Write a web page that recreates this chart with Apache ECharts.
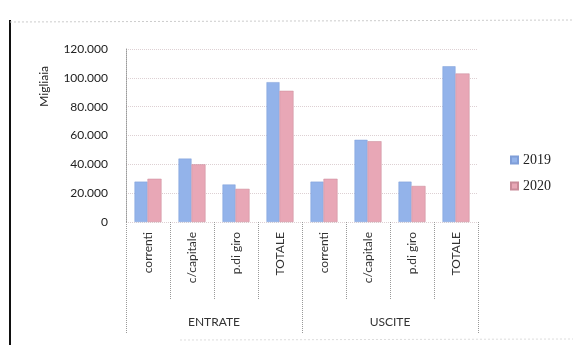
<!DOCTYPE html>
<html>
<head>
<meta charset="utf-8">
<script src="https://cdn.jsdelivr.net/npm/echarts@6/dist/echarts.min.js"></script>
<style>
  html, body { margin: 0; padding: 0; background: #fff; }
  #chart { width: 573px; height: 345px; }
</style>
</head>
<body>
<div id="chart"></div>
<script>
// Voci di bilancio (migliaia di euro)
const voci = ['correnti', 'c/capitale', 'p.di giro', 'TOTALE', 'correnti', 'c/capitale', 'p.di giro', 'TOTALE'];
const gruppi = ['ENTRATE', 'USCITE'];
const serie2019 = [28000, 44000, 26000, 97000, 28000, 57000, 28000, 108000];
const serie2020 = [30000, 40000, 23000, 91000, 30000, 56000, 25000, 103000];
const yTicks = [0, 20000, 40000, 60000, 80000, 100000, 120000];

const chart = echarts.init(document.getElementById('chart'));
const font = 'Lato, "DejaVu Sans", sans-serif';

chart.setOption({
  animation: false,
  backgroundColor: '#fff',
  textStyle: { fontFamily: font },
  grid: { left: 126, right: 95, top: 49, bottom: 123, containLabel: false },
  legend: {
    orient: 'vertical', left: 505, top: 148, itemWidth: 7, itemHeight: 7, itemGap: 12,
    icon: 'rect',
    textStyle: { fontFamily: '"Liberation Serif", "DejaVu Serif", serif', fontSize: 14, color: '#222' },
    data: ['2019', '2020']
  },
  xAxis: [
    {
      type: 'category', data: voci, position: 'bottom',
      axisLine: { show: false },
      axisTick: { show: true, length: 78, lineStyle: { color: '#999', type: 'dotted' } },
      axisLabel: { rotate: 90, margin: 10, fontSize: 12, color: '#333', interval: 0 }
    },
    {
      type: 'category', data: gruppi, position: 'bottom',
      axisLine: { show: false },
      axisTick: { show: true, length: 112, lineStyle: { color: '#999', type: 'dotted' } },
      axisLabel: { margin: 94, fontSize: 12, color: '#333' }
    }
  ],
  yAxis: {
    type: 'value', min: yTicks[0], max: yTicks[yTicks.length - 1], interval: 20000,
    axisLine: { show: true, lineStyle: { color: '#999', type: 'dotted' } },
    axisTick: { show: false },
    axisLabel: {
      margin: 18, fontSize: 12, color: '#222',
      formatter: v => v === 0 ? '0' : v.toLocaleString('it-IT').replace(/,/g, '.')
    },
    splitLine: { show: true, lineStyle: { color: '#ddd0d3', type: 'dotted' } }
  },
  series: [
    {
      name: '2019', type: 'bar', data: serie2019, xAxisIndex: 0, barWidth: 13, barGap: '0%',
      itemStyle: { color: '#93b3ea', borderColor: '#7f9ed8', borderWidth: 0.5 }
    },
    {
      name: '2020', type: 'bar', data: serie2020, xAxisIndex: 0, barWidth: 14,
      itemStyle: { color: '#e8a7b6', borderColor: '#c98b99', borderWidth: 0.5 }
    }
  ],
  graphic: [
    { type: 'text', left: 38, top: 66, rotation: Math.PI / 2, style: { text: 'Migliaia', fontSize: 12, fill: '#222', fontFamily: font } },
    { type: 'line', shape: { x1: 10, y1: 20, x2: 10, y2: 345 }, style: { stroke: '#111', lineWidth: 2 } },
    { type: 'line', shape: { x1: 10, y1: 22, x2: 573, y2: 20 }, style: { stroke: '#ccc', lineWidth: 1, lineDash: [2, 2] } },
    { type: 'line', shape: { x1: 180, y1: 340, x2: 573, y2: 339 }, style: { stroke: '#ddd', lineWidth: 1, lineDash: [2, 2] } }
  ]
});
</script>
</body>
</html>
